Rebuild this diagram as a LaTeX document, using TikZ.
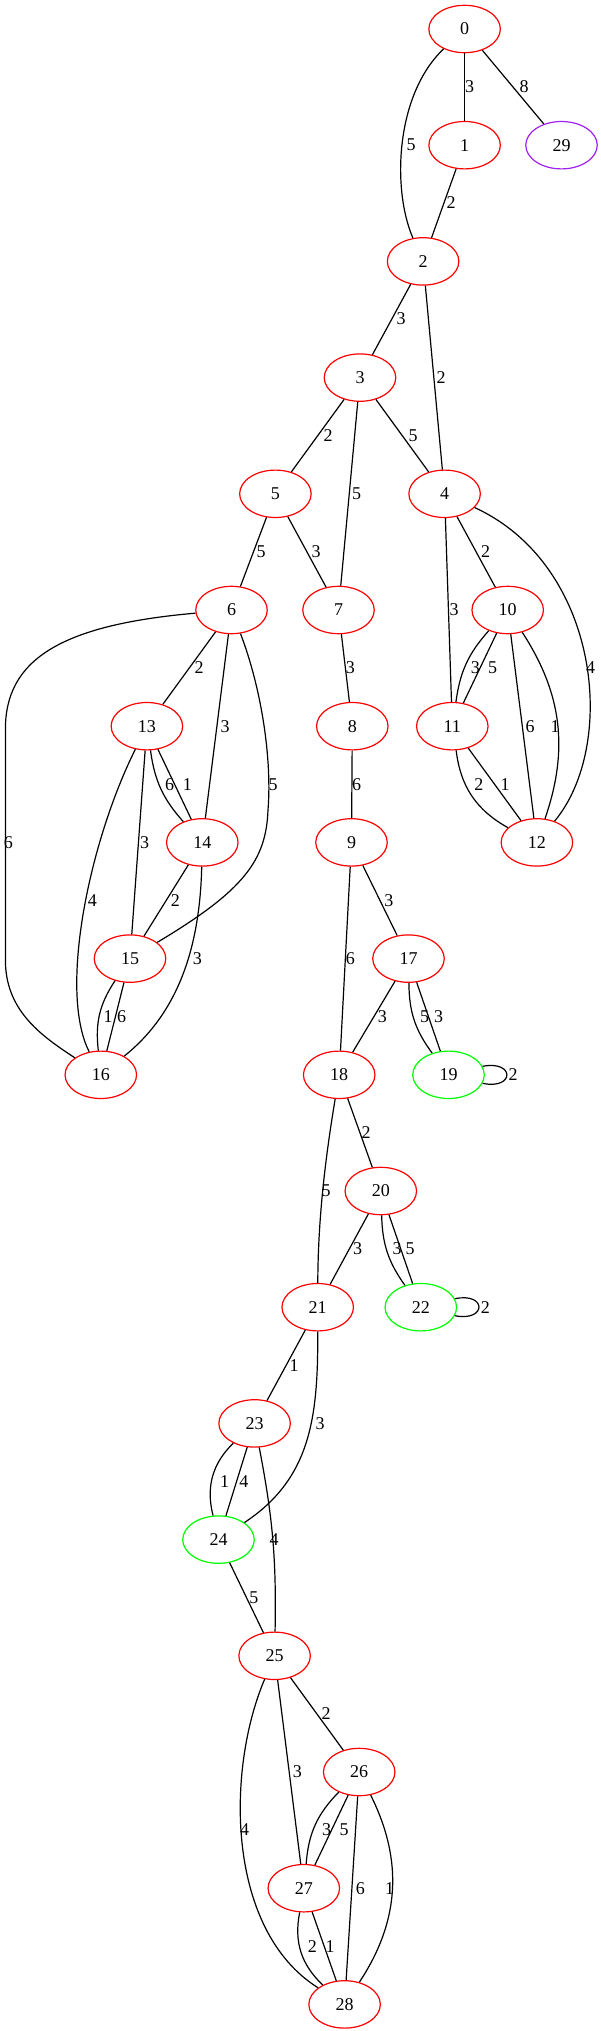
\documentclass[tikz,border=0pt]{standalone}
\usepackage{fontspec}
\setmainfont{Liberation Serif}
\usetikzlibrary{shapes.geometric}
\definecolor{gvred}{RGB}{255,0,0}
\definecolor{gvgreen}{RGB}{0,255,0}
\definecolor{gvpurple}{RGB}{160,32,240}
\newcommand{\gvfont}{\fontsize{18}{20}\selectfont}
\begin{document}
\begin{tikzpicture}[x=1pt,y=1pt,
  gnode/.style={ellipse, draw=gvred, line width=1.2pt, minimum width=71.5pt, minimum height=47.4pt, inner sep=0pt, font=\gvfont},
  gedge/.style={line width=1.2pt, draw=black},
  elab/.style={font=\gvfont, inner sep=0pt}]
\useasboundingbox (0,0) rectangle (600,-2031);
% nodes
\node[gnode] (n0) at (464.6,-29.0) {0};
\node[gnode] (n1) at (464.6,-145.2) {1};
\node[gnode, draw=gvpurple] (n29) at (561.5,-145.2) {29};
\node[gnode] (n2) at (423.1,-261.4) {2};
\node[gnode] (n3) at (360.0,-377.6) {3};
\node[gnode] (n5) at (275.4,-493.8) {5};
\node[gnode] (n4) at (444.6,-493.8) {4};
\node[gnode] (n6) at (231.5,-610.0) {6};
\node[gnode] (n7) at (338.5,-610.0) {7};
\node[gnode] (n10) at (507.7,-610.0) {10};
\node[gnode] (n13) at (146.9,-726.2) {13};
\node[gnode] (n8) at (352.3,-726.2) {8};
\node[gnode] (n11) at (452.3,-726.2) {11};
\node[gnode] (n14) at (202.3,-842.4) {14};
\node[gnode] (n9) at (351.5,-842.4) {9};
\node[gnode] (n12) at (536.9,-842.4) {12};
\node[gnode] (n15) at (130.0,-958.6) {15};
\node[gnode] (n17) at (408.5,-958.6) {17};
\node[gnode] (n16) at (100.8,-1074.8) {16};
\node[gnode] (n18) at (339.2,-1074.8) {18};
\node[gnode, draw=gvgreen] (n19) at (448.5,-1074.8) {19};
\node[gnode] (n20) at (380.8,-1191.0) {20};
\node[gnode] (n21) at (317.7,-1307.2) {21};
\node[gnode, draw=gvgreen] (n22) at (420.8,-1307.2) {22};
\node[gnode] (n23) at (254.6,-1423.4) {23};
\node[gnode, draw=gvgreen] (n24) at (218.5,-1539.6) {24};
\node[gnode] (n25) at (274.6,-1655.8) {25};
\node[gnode] (n26) at (359.2,-1772.0) {26};
\node[gnode] (n27) at (303.8,-1888.2) {27};
\node[gnode] (n28) at (344.6,-2004.4) {28};
% edges
\draw[gedge] (n0) -- (n1);
\draw[gedge] (n0) -- (n29);
\draw[gedge] (n0) .. controls (395,-95) and (392,-190) .. (n2);
\draw[gedge] (n1) -- (n2);
\draw[gedge] (n2) -- (n3);
\draw[gedge] (n2) -- (n4);
\draw[gedge] (n3) -- (n5);
\draw[gedge] (n3) -- (n7);
\draw[gedge] (n3) -- (n4);
\draw[gedge] (n5) -- (n6);
\draw[gedge] (n5) -- (n7);
\draw[gedge] (n4) -- (n10);
\draw[gedge] (n4) -- (n11);
\draw[gedge] (n4) .. controls (600,-565) and (618,-745) .. (n12);
\draw[gedge] (n6) -- (n13);
\draw[gedge] (n6) -- (n14);
\draw[gedge] (n6) .. controls (262,-690) and (272,-760) .. (268,-810) .. controls (266,-860) and (245,-890) .. (n15);
\draw[gedge] (n6) .. controls (60,-625) and (5,-660) .. (5.4,-730) -- (5.4,-960) .. controls (5.4,-1010) and (40,-1035) .. (n16);
\draw[gedge] (n7) -- (n8);
\draw[gedge] (n10) to[bend right=17] (n11);
\draw[gedge] (n10) -- (n11);
\draw[gedge] (n10) -- (n12);
\draw[gedge] (n10) to[bend left=26] (n12);
\draw[gedge] (n13) to[bend right=17] (n14);
\draw[gedge] (n13) -- (n14);
\draw[gedge] (n13) -- (n15);
\draw[gedge] (n13) .. controls (90,-840) and (58,-990) .. (n16);
\draw[gedge] (n8) -- (n9);
\draw[gedge] (n11) to[bend right=27] (n12);
\draw[gedge] (n11) -- (n12);
\draw[gedge] (n14) -- (n15);
\draw[gedge] (n14) .. controls (200,-940) and (182,-1010) .. (n16);
\draw[gedge] (n9) -- (n17);
\draw[gedge] (n9) -- (n18);
\draw[gedge] (n15) to[bend right=20] (n16);
\draw[gedge] (n15) -- (n16);
\draw[gedge] (n17) -- (n18);
\draw[gedge] (n17) to[bend right=18] (n19);
\draw[gedge] (n17) -- (n19);
\draw[gedge] (n19.14) .. controls (515,-1060) and (515,-1090) .. (n19.-14);
\draw[gedge] (n18) -- (n20);
\draw[gedge] (n18) .. controls (325,-1160) and (318,-1220) .. (n21);
\draw[gedge] (n20) -- (n21);
\draw[gedge] (n20) to[bend right=17] (n22);
\draw[gedge] (n20) -- (n22);
\draw[gedge] (n22.14) .. controls (487,-1292) and (487,-1322) .. (n22.-14);
\draw[gedge] (n21) -- (n23);
\draw[gedge] (n21) .. controls (318,-1415) and (312,-1478) .. (n24);
\draw[gedge] (n23) to[bend right=30] (n24);
\draw[gedge] (n23) -- (n24);
\draw[gedge] (n23) to[bend left=6] (n25);
\draw[gedge] (n24) -- (n25);
\draw[gedge] (n25) -- (n26);
\draw[gedge] (n25) -- (n27);
\draw[gedge] (n25) .. controls (226,-1770) and (226,-1930) .. (n28);
\draw[gedge] (n26) to[bend right=20] (n27);
\draw[gedge] (n26) -- (n27);
\draw[gedge] (n26) -- (n28);
\draw[gedge] (n26) to[bend left=30] (n28);
\draw[gedge] (n27) to[bend right=29] (n28);
\draw[gedge] (n27) -- (n28);
% edge labels
\node[elab] (l1) at (469.5,-87) {3};
\node[elab] (l2) at (524,-87) {8};
\node[elab] (l3) at (411,-145) {5};
\node[elab] (l4) at (451,-203) {2};
\node[elab] (l5) at (401,-319) {3};
\node[elab] (l6) at (441,-377.6) {2};
\node[elab] (l7) at (328,-435.7) {2};
\node[elab] (l8) at (413,-435.7) {5};
\node[elab] (l9) at (356.5,-493.8) {5};
\node[elab] (l10) at (261,-552) {5};
\node[elab] (l11) at (316,-552) {3};
\node[elab] (l12) at (485.5,-552) {2};
\node[elab] (l13) at (454,-610) {3};
\node[elab] (l14) at (590.5,-668) {4};
\node[elab] (l15) at (199,-668) {2};
\node[elab] (l16) at (225,-726.2) {3};
\node[elab] (l17) at (273,-784.3) {5};
\node[elab] (l18) at (8.5,-842.4) {6};
\node[elab] (l19) at (350.4,-668) {3};
\node[elab] (l20) at (475.4,-668) {3};
\node[elab] (l21) at (492.7,-668) {5};
\node[elab] (l22) at (169.6,-784.3) {6};
\node[elab] (l23) at (187.3,-784.3) {1};
\node[elab] (l24) at (356.5,-784.3) {6};
\node[elab] (l25) at (530,-726.2) {6};
\node[elab] (l26) at (555,-726.2) {1};
\node[elab] (l27) at (478.8,-784.3) {2};
\node[elab] (l28) at (505,-784.3) {1};
\node[elab] (l29) at (144.6,-842.4) {3};
\node[elab] (l30) at (92.3,-900.5) {4};
\node[elab] (l31) at (175.4,-900.5) {2};
\node[elab] (l32) at (388.8,-900.5) {3};
\node[elab] (l33) at (197.3,-958.6) {3};
\node[elab] (l34) at (350.4,-958.6) {6};
\node[elab] (l35) at (108,-1016.7) {1};
\node[elab] (l36) at (121.5,-1016.7) {6};
\node[elab] (l37) at (382.3,-1016.7) {3};
\node[elab] (l38) at (424.6,-1016.7) {5};
\node[elab] (l39) at (438.5,-1016.7) {3};
\node[elab] (l40) at (513,-1074.8) {2};
\node[elab] (l41) at (366,-1133) {2};
\node[elab] (l42) at (326,-1191) {5};
\node[elab] (l43) at (357.7,-1249) {3};
\node[elab] (l44) at (397,-1249) {3};
\node[elab] (l45) at (410,-1249) {5};
\node[elab] (l46) at (485.4,-1307.2) {2};
\node[elab] (l47) at (294.2,-1365.3) {1};
\node[elab] (l48) at (320,-1423.4) {3};
\node[elab] (l49) at (224.6,-1481.5) {1};
\node[elab] (l50) at (243.8,-1481.5) {4};
\node[elab] (l51) at (274.2,-1539.6) {4};
\node[elab] (l52) at (253.8,-1597.7) {5};
\node[elab] (l53) at (326,-1714) {2};
\node[elab] (l54) at (297.3,-1772) {3};
\node[elab] (l55) at (244.6,-1830) {4};
\node[elab] (l56) at (326.5,-1830) {3};
\node[elab] (l57) at (344.2,-1830) {5};
\node[elab] (l58) at (360.4,-1888.2) {6};
\node[elab] (l59) at (389.6,-1888.2) {1};
\node[elab] (l60) at (312.3,-1946.3) {2};
\node[elab] (l61) at (330,-1946.3) {1};
\end{tikzpicture}
\end{document}
